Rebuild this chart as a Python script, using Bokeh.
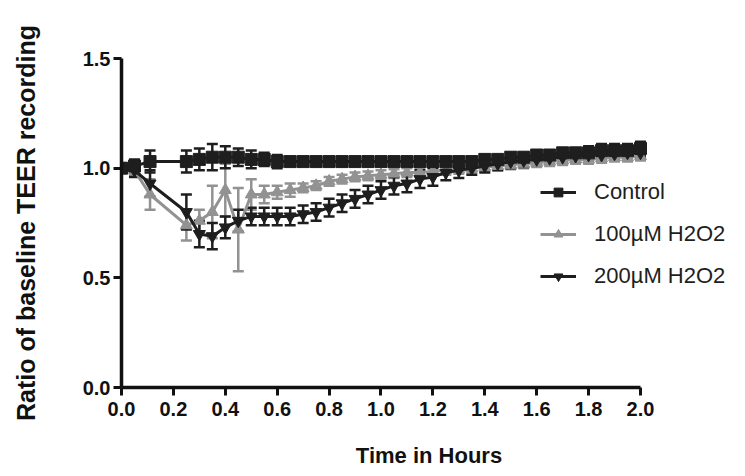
from bokeh.plotting import figure
from bokeh.models import (ColumnDataSource, Whisker, TeeHead, FixedTicker,
                          NumeralTickFormatter, Legend, LegendItem, Range1d)
from bokeh.embed import file_html
from bokeh.resources import INLINE

# ---- data ----
hours = [0.00, 0.05, 0.11, 0.25, 0.30, 0.35, 0.40, 0.45, 0.50, 0.55, 0.60, 0.65,
         0.70, 0.75, 0.80, 0.85, 0.90, 0.95, 1.00, 1.05, 1.10, 1.15, 1.20, 1.25,
         1.30, 1.35, 1.40, 1.45, 1.50, 1.55, 1.60, 1.65, 1.70, 1.75, 1.80, 1.85,
         1.90, 1.95, 2.00]

control_mean = [1.00, 1.01, 1.03, 1.03, 1.04, 1.05, 1.05, 1.05, 1.04, 1.04, 1.03, 1.03,
                1.03, 1.03, 1.03, 1.03, 1.03, 1.03, 1.03, 1.03, 1.03, 1.03, 1.03, 1.03,
                1.03, 1.03, 1.04, 1.04, 1.05, 1.05, 1.06, 1.06, 1.07, 1.07, 1.07, 1.08,
                1.08, 1.08, 1.09]
control_err = [0.02, 0.03, 0.05, 0.05, 0.05, 0.06, 0.05, 0.04, 0.04, 0.03, 0.03, 0.02,
               0.02, 0.02, 0.02, 0.02, 0.02, 0.02, 0.02, 0.02, 0.02, 0.02, 0.02, 0.02,
               0.02, 0.02, 0.02, 0.02, 0.02, 0.02, 0.02, 0.02, 0.02, 0.02, 0.03, 0.03,
               0.03, 0.03, 0.03]

h100_mean = [1.00, 0.99, 0.88, 0.74, 0.76, 0.80, 0.90, 0.72, 0.88, 0.88, 0.89, 0.90,
             0.91, 0.92, 0.94, 0.95, 0.96, 0.965, 0.97, 0.975, 0.98, 0.98, 0.985, 0.99,
             0.995, 1.00, 1.005, 1.01, 1.015, 1.02, 1.025, 1.03, 1.035, 1.04, 1.04, 1.045,
             1.05, 1.05, 1.055]
h100_err = [0.02, 0.02, 0.07, 0.07, 0.05, 0.12, 0.12, 0.19, 0.07, 0.04, 0.03, 0.03,
            0.02, 0.02, 0.02, 0.02, 0.02, 0.02, 0.02, 0.02, 0.02, 0.02, 0.02, 0.02,
            0.02, 0.02, 0.02, 0.02, 0.02, 0.02, 0.02, 0.02, 0.02, 0.02, 0.02, 0.02,
            0.02, 0.02, 0.02]

h200_mean = [1.00, 0.99, 0.93, 0.80, 0.70, 0.69, 0.73, 0.76, 0.78, 0.78, 0.78, 0.78,
             0.79, 0.80, 0.82, 0.84, 0.86, 0.88, 0.90, 0.92, 0.93, 0.95, 0.96, 0.98,
             0.99, 1.00, 1.01, 1.02, 1.03, 1.035, 1.04, 1.045, 1.05, 1.055, 1.06, 1.06,
             1.065, 1.07, 1.07]
h200_err = [0.02, 0.03, 0.06, 0.08, 0.06, 0.06, 0.05, 0.05, 0.04, 0.04, 0.04, 0.04,
            0.04, 0.04, 0.04, 0.04, 0.04, 0.04, 0.04, 0.04, 0.04, 0.04, 0.04, 0.035,
            0.035, 0.03, 0.03, 0.03, 0.03, 0.03, 0.025, 0.025, 0.025, 0.025, 0.02, 0.02,
            0.02, 0.02, 0.02]

series_names = ["Control", "100\u00b5M H2O2", "200\u00b5M H2O2"]
x_ticks = [0.0, 0.2, 0.4, 0.6, 0.8, 1.0, 1.2, 1.4, 1.6, 1.8, 2.0]
y_ticks = [0.0, 0.5, 1.0, 1.5]

DARK = "#1e1e1e"
GRAY = "#929292"
FONT = "Liberation Sans"

# the frame runs past x = 2.0 so the legend (which sits partly right of the
# axis end) is not clipped; the x axis line itself is bounded to 0..2.0
p = figure(width=737, height=470, output_backend="svg", toolbar_location=None,
           x_range=Range1d(0, 2.37), y_range=Range1d(0, 1.5),
           min_border_left=121, min_border_right=1, min_border_top=58,
           min_border_bottom=78)
p.outline_line_color = None
p.xgrid.grid_line_color = None
p.ygrid.grid_line_color = None
p.background_fill_color = "white"
p.border_fill_color = "white"


def make_source(mean, err):
    return ColumnDataSource(dict(
        t=hours, m=mean,
        lo=[a - b for a, b in zip(mean, err)],
        hi=[a + b for a, b in zip(mean, err)]))


specs = [
    (h100_mean, h100_err, GRAY, "triangle", series_names[1]),
    (h200_mean, h200_err, DARK, "inverted_triangle", series_names[2]),
    (control_mean, control_err, DARK, "square", series_names[0]),
]
renderers = {}
for mean, err, col, mk, name in specs:
    src = make_source(mean, err)
    w = Whisker(source=src, base="t", upper="hi", lower="lo",
                line_color=col, line_width=2.5,
                upper_head=TeeHead(size=11, line_color=col, line_width=2.5),
                lower_head=TeeHead(size=11, line_color=col, line_width=2.5))
    p.add_layout(w)
    ln = p.line("t", "m", source=src, line_color=col, line_width=3)
    sc = p.scatter("t", "m", source=src, marker=mk, size=12,
                   fill_color=col, line_color=col)
    renderers[name] = [ln, sc]

legend = Legend(items=[LegendItem(label=n, renderers=renderers[n]) for n in series_names],
                location=(419, 98), border_line_color=None, background_fill_alpha=0,
                padding=0, margin=0, spacing=16, glyph_width=36, glyph_height=22,
                label_height=22, label_standoff=18,
                label_text_font=FONT, label_text_font_size="22px",
                label_text_color=DARK)
p.add_layout(legend, "center")

for ax in (p.xaxis[0], p.yaxis[0]):
    ax.axis_line_width = 3.5
    ax.axis_line_color = "#111111"
    ax.major_tick_line_width = 3
    ax.major_tick_line_color = "#111111"
    ax.major_tick_out = 8
    ax.major_tick_in = 0
    ax.minor_tick_line_color = None
    ax.major_label_text_font = FONT
    ax.major_label_text_font_style = "bold"
    ax.major_label_text_font_size = "20px"
    ax.major_label_text_color = "#111111"
    ax.major_label_standoff = 3
    ax.axis_label_text_font = FONT
    ax.axis_label_text_font_style = "bold"
    ax.axis_label_text_color = "#111111"
    ax.formatter = NumeralTickFormatter(format="0.0")

p.xaxis[0].ticker = FixedTicker(ticks=x_ticks)
p.xaxis[0].bounds = (x_ticks[0], x_ticks[-1])
p.xaxis[0].major_label_standoff = 6
p.yaxis[0].ticker = FixedTicker(ticks=y_ticks)
p.xaxis[0].axis_label = "Time in Hours"
p.xaxis[0].axis_label_text_font_size = "22px"
p.xaxis[0].axis_label_standoff = 24
p.yaxis[0].axis_label = "Ratio of baseline TEER recording"
p.yaxis[0].axis_label_text_font_size = "25px"
p.yaxis[0].axis_label_standoff = 40

open("out.html", "w").write(file_html(p, INLINE))
